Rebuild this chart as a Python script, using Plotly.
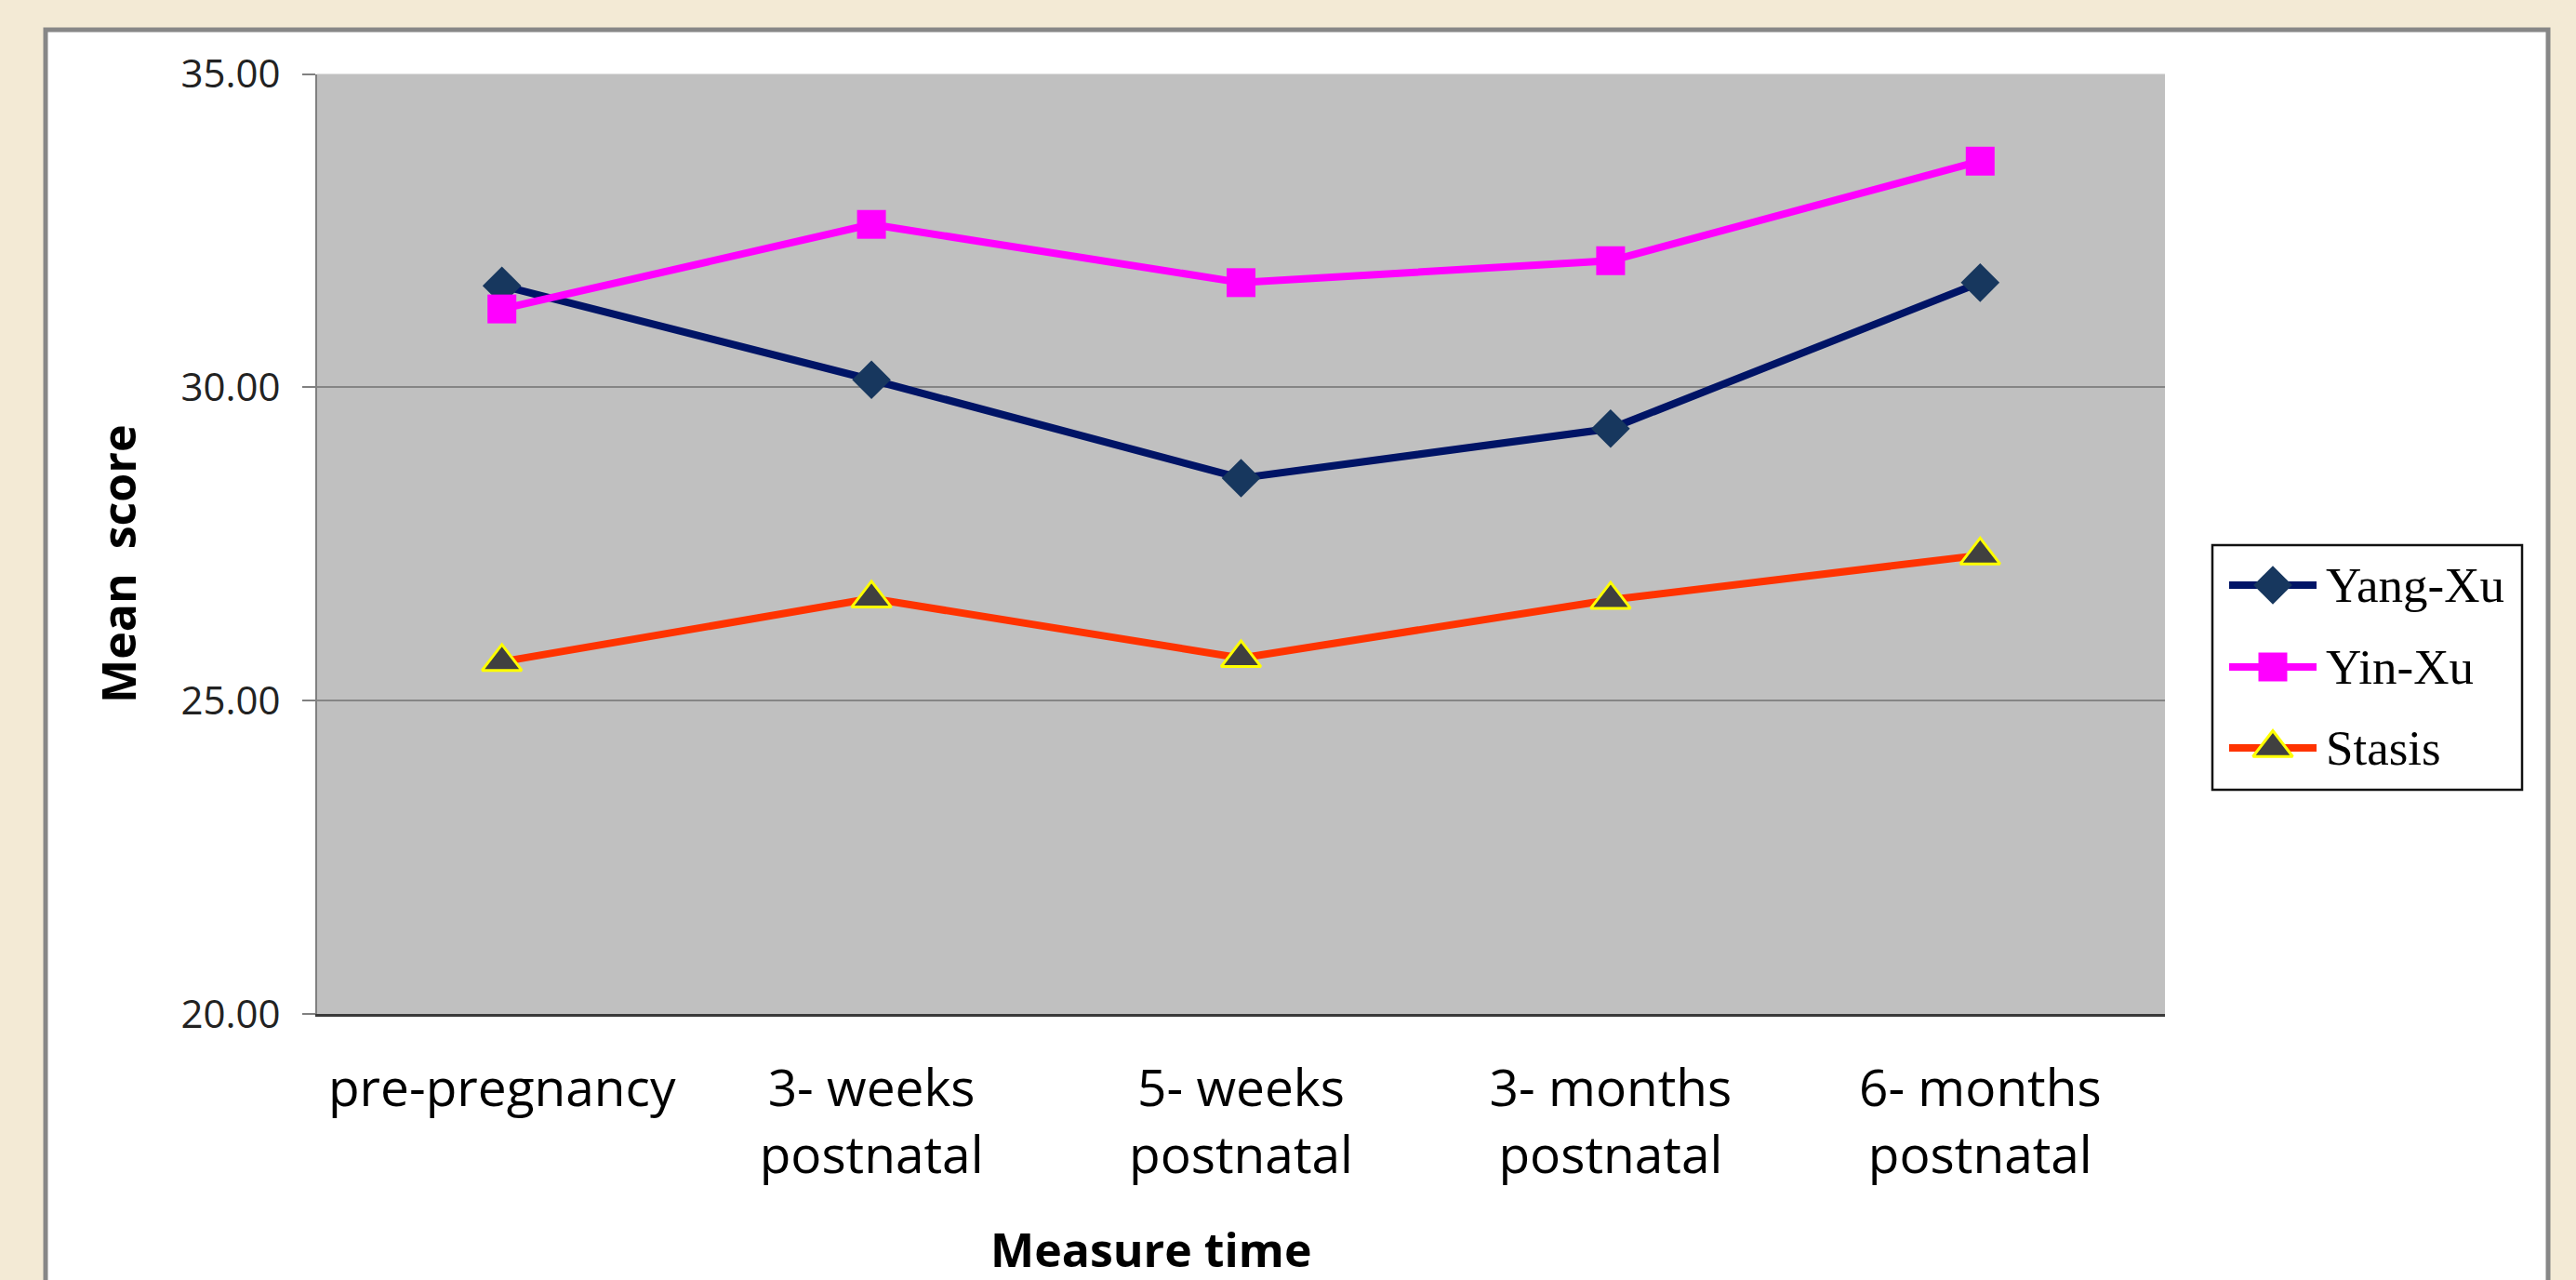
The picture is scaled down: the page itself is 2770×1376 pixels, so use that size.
import plotly.graph_objects as go

# ---- data ----
categories = [
    "pre-pregnancy",
    "3- weeks<br>postnatal",
    "5- weeks<br>postnatal",
    "3- months<br>postnatal",
    "6- months<br>postnatal",
]
yang_xu = [31.62, 30.12, 28.55, 29.34, 31.67]
yin_xu = [31.25, 32.60, 31.67, 32.02, 33.61]
stasis = [25.62, 26.63, 25.68, 26.61, 27.32]

series_names = ["Yang-Xu", "Yin-Xu", "Stasis"]
y_ticks = [20, 25, 30, 35]

# ---- page geometry (pixels) ----
W, H = 2770, 1376
PLOT_L, PLOT_R, PLOT_T, PLOT_B = 341, 2328, 79.5, 1090
LEG_L, LEG_R, LEG_T, LEG_B = 2379, 2712, 586, 849


def px_x(v):
    return v / W


def px_y(v):
    return 1 - v / H


styles = {
    "Yang-Xu": dict(line=dict(color="#001466", width=8),
                    marker=dict(symbol="diamond", size=32, color="#17375E",
                                line=dict(width=0))),
    "Yin-Xu": dict(line=dict(color="#FF00FF", width=8),
                   marker=dict(symbol="square", size=31, color="#FF00FF",
                               line=dict(width=0))),
    "Stasis": dict(line=dict(color="#FF3300", width=8),
                   marker=dict(symbol="triangle-up", size=37, color="#404040",
                               line=dict(color="#FFFF00", width=3))),
}

fig = go.Figure()

for name, vals in zip(series_names, [yang_xu, yin_xu, stasis]):
    fig.add_trace(go.Scatter(
        x=categories, y=vals, name=name, mode="lines+markers",
        line=styles[name]["line"], marker=styles[name]["marker"],
        showlegend=False, xaxis="x", yaxis="y",
    ))

# legend samples on their own small axes (pixel-like units inside the box)
legend_rows = [43, 131, 218]
for name, ry in zip(series_names, legend_rows):
    fig.add_trace(go.Scatter(
        x=[18, 112], y=[ry, ry], mode="lines",
        line=styles[name]["line"], showlegend=False, hoverinfo="skip",
        xaxis="x2", yaxis="y2",
    ))
    fig.add_trace(go.Scatter(
        x=[65], y=[ry], mode="markers",
        marker=styles[name]["marker"], showlegend=False, hoverinfo="skip",
        xaxis="x2", yaxis="y2",
    ))

shapes = [
    # white chart panel with grey frame
    dict(type="rect", xref="paper", yref="paper",
         x0=px_x(49), x1=px_x(2740), y0=px_y(1420), y1=px_y(32),
         fillcolor="white", line=dict(color="#878787", width=5), layer="below"),
    # grey plot area
    dict(type="rect", xref="x domain", yref="y domain",
         x0=0, x1=1, y0=0, y1=1,
         fillcolor="#C0C0C0", line=dict(width=0), layer="below"),
    # legend frame
    dict(type="rect", xref="x2 domain", yref="y2 domain",
         x0=0, x1=1, y0=0, y1=1,
         fillcolor="rgba(0,0,0,0)", line=dict(color="#111111", width=2.5),
         layer="above"),
]

annotations = [
    dict(text="<b>Mean\u00a0 score</b>", xref="paper", yref="paper",
         x=px_x(127), y=px_y(606), textangle=-90, showarrow=False,
         font=dict(family="Open Sans", size=50, color="#000000"),
         xanchor="center", yanchor="middle"),
    dict(text="<b>Measure time</b>", xref="paper", yref="paper",
         x=px_x(1237), y=px_y(1343), showarrow=False,
         font=dict(family="Open Sans", size=50, color="#000000"),
         xanchor="center", yanchor="middle"),
]
for name, ry in zip(series_names, legend_rows):
    annotations.append(dict(
        text=name, xref="x2", yref="y2", x=120, y=ry, showarrow=False,
        xanchor="left", yanchor="middle",
        font=dict(family="Liberation Serif", size=53, color="#000000"),
    ))

fig.update_layout(
    template="none",
    width=W, height=H,
    margin=dict(l=0, r=0, t=0, b=0, pad=0),
    paper_bgcolor="#F3EAD5",
    plot_bgcolor="rgba(0,0,0,0)",
    showlegend=False,
    shapes=shapes,
    annotations=annotations,
    xaxis=dict(
        domain=[px_x(PLOT_L), px_x(PLOT_R)],
        type="category", range=[-0.5, 4.5],
        automargin=False,
        showgrid=False, zeroline=False,
        showline=True, linecolor="#3A3A3A", linewidth=3,
        ticks="", ticklabelstandoff=30,
        tickfont=dict(family="Open Sans", size=55, color="#000000"),
        anchor="y",
    ),
    yaxis=dict(
        domain=[1 - PLOT_B / H, 1 - PLOT_T / H],
        range=[20, 35], tickvals=y_ticks, tickformat=".2f",
        automargin=False,
        showgrid=True, gridcolor="#858585", gridwidth=2,
        zeroline=False,
        showline=True, linecolor="#808080", linewidth=2,
        ticks="outside", ticklen=14, tickwidth=2, tickcolor="#808080",
        ticklabelstandoff=15,
        tickfont=dict(family="Open Sans", size=42, color="#222222"),
        anchor="x",
    ),
    xaxis2=dict(
        domain=[px_x(LEG_L), px_x(LEG_R)], range=[0, LEG_R - LEG_L],
        visible=False, fixedrange=True, automargin=False, anchor="y2",
    ),
    yaxis2=dict(
        domain=[1 - LEG_B / H, 1 - LEG_T / H], range=[LEG_B - LEG_T, 0],
        visible=False, fixedrange=True, automargin=False, anchor="x2",
    ),
)

fig.write_html("out.html")
